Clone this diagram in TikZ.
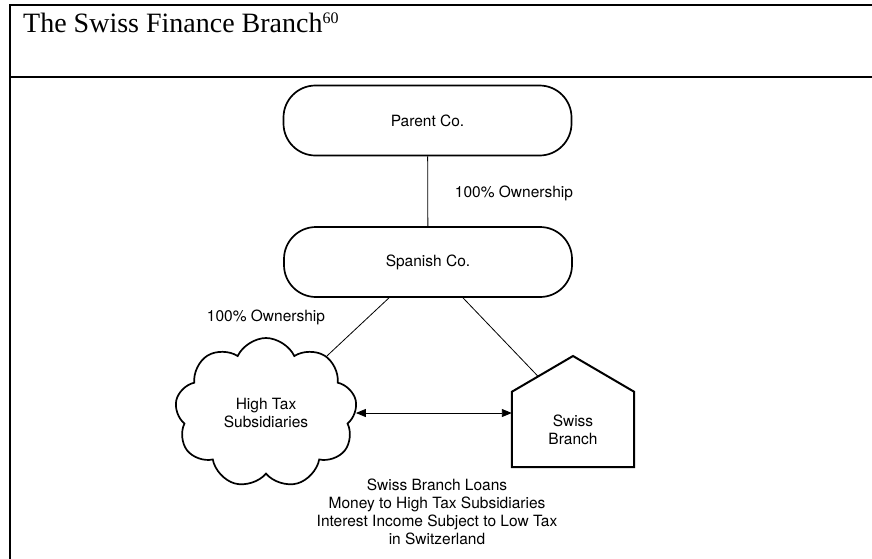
\documentclass[tikz,border=0pt]{standalone}
\usepackage{fontspec}
\setmainfont{Liberation Serif}
\setsansfont{TeX Gyre Heros}
\usetikzlibrary{arrows.meta,positioning,calc,shapes.symbols}
\newcommand{\diagfont}{\sffamily\fontsize{15.5}{18}\selectfont}
\tikzset{
  frame/.style={line width=2.5pt, line cap=rect},
  pill/.style={
    draw, line width=1.7pt, rounded corners=32pt,
    minimum width=288pt, minimum height=70pt,
    font=\diagfont
  },
  puff/.style={
    draw, cloud, cloud puffs=9, cloud puff arc=130, aspect=1.2,
    line width=1.7pt, minimum width=182pt, minimum height=150pt,
    align=center, font=\diagfont
  },
  walls/.style={
    minimum width=122pt, minimum height=75pt, inner sep=0pt,
    align=center, font=\diagfont
  },
  house/.style={line width=2pt, line join=miter},
  note/.style={font=\diagfont, align=center},
  conn/.style={line width=0.8pt},
  twoway/.style={{Triangle[length=10pt,width=8pt]}-{Triangle[length=10pt,width=8pt]}, line width=0.9pt}
}

\begin{document}
\begin{tikzpicture}[x=1pt,y=-1pt]
    \useasboundingbox (0,0) rectangle (872,558);
    \draw[frame] (872,5) -- (10,5) -- (10,560);
    \draw[frame] (10,77) -- (872,77);
    \node[anchor=base west, inner sep=0pt, font=\fontsize{28}{32}\selectfont] (title) at (23,32)
      {The Swiss Finance Branch\raisebox{9pt}{\fontsize{16}{16}\selectfont 60}};

    \node[pill] (parent) at (427.5,120.5) {Parent Co.};
    \node[pill] (spanish) at (428,262) {Spanish Co.};
    \node[puff] (subs) at (266,413) {High Tax\\Subsidiaries};
    \node[walls] (branch) at (573,429.5) {Swiss\\Branch};
    \coordinate (roof) at (573,356);
    \draw[house] (branch.north west) -- (roof) -- (branch.north east)
      -- (branch.south east) -- (branch.south west) -- cycle;

    \draw[conn] (parent) -- (spanish);
    \draw[conn] ([xshift=-39pt]spanish.south) -- (subs);
    \draw[conn] ([xshift=35pt]spanish.south) -- ($(branch.north west)!0.43!(roof)$);
    \draw[twoway] (subs.east) -- (subs.east -| branch.west);

    \node[note] (own1) at (514,193) {100\% Ownership};
    \node[note] (own2) at (266,317) {100\% Ownership};
    \node[note] (loans) at (437,512)
      {Swiss Branch Loans\\Money to High Tax Subsidiaries\\Interest Income Subject to Low Tax\\in Switzerland};
\end{tikzpicture}
\end{document}
